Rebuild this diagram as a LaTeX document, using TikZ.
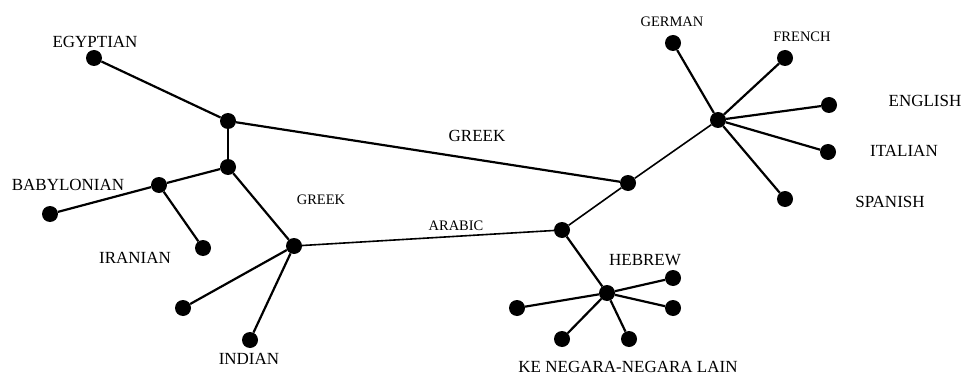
\documentclass[tikz,border=0pt]{standalone}
\usepackage{fontspec}
\setmainfont{Liberation Serif}
\begin{document}
\begin{tikzpicture}[x=1pt,y=-1pt,
  dot/.style={circle,fill=black,draw=none,minimum size=16pt,inner sep=0pt},
  edge/.style={line width=2.2pt},
  thinedge/.style={line width=1.6pt},
  big/.style={inner sep=0pt,anchor=base,font=\fontsize{17}{17}\selectfont},
  small/.style={inner sep=0pt,anchor=base,font=\fontsize{14.5}{14.5}\selectfont}]
\useasboundingbox (0,0) rectangle (965,374);
% dots
\node[dot] (egy) at (94,58) {};
\node[dot] (A) at (228,121) {};
\node[dot] (B) at (228,167) {};
\node[dot] (C) at (159,185) {};
\node[dot] (bab) at (50,214) {};
\node[dot] (ira) at (203,248) {};
\node[dot] (D) at (294,246) {};
\node[dot] (l1) at (183,308) {};
\node[dot] (ind) at (250,340) {};
\node[dot] (E) at (562,230) {};
\node[dot] (F) at (628,183) {};
\node[dot] (G) at (718,120) {};
\node[dot] (ger) at (673,43) {};
\node[dot] (fre) at (785,58) {};
\node[dot] (eng) at (829,105) {};
\node[dot] (ita) at (828,152) {};
\node[dot] (spa) at (785,199) {};
\node[dot] (H) at (607,293) {};
\node[dot] (h1) at (517,308) {};
\node[dot] (h2) at (673,278) {};
\node[dot] (h3) at (673,308) {};
\node[dot] (h4) at (562,339) {};
\node[dot] (h5) at (629,339) {};
% edges
\draw[edge] (egy) -- (A);
\draw[edge] (A) -- (B);
\draw[edge] (A) -- (F);
\draw[edge] (B) -- (C);
\draw[edge] (C) -- (bab);
\draw[edge] (C) -- (ira);
\draw[edge] (B) -- (D);
\draw[edge] (D) -- (l1);
\draw[edge] (D) -- (ind);
\draw[thinedge] (D) -- (E);
\draw[thinedge] (E) -- (F);
\draw[thinedge] (F) -- (G);
\draw[edge] (G) -- (ger);
\draw[edge] (G) -- (fre);
\draw[edge] (G) -- (eng);
\draw[edge] (G) -- (ita);
\draw[edge] (G) -- (spa);
\draw[edge] (E) -- (H);
\draw[edge] (H) -- (h1);
\draw[edge] (H) -- (h2);
\draw[edge] (H) -- (h3);
\draw[edge] (H) -- (h4);
\draw[edge] (H) -- (h5);
% labels
\node[big] (tegy) at (95,48) {EGYPTIAN};
\node[big] (tbab) at (68,190) {BABYLONIAN};
\node[big] (tira) at (135,263) {IRANIAN};
\node[small] (tgreek1) at (321,204) {GREEK};
\node[big] (tind) at (249,364) {INDIAN};
\node[small] (tara) at (456,230) {ARABIC};
\node[big] (tgreek2) at (477,142) {GREEK};
\node[small] (tger) at (672,27) {GERMAN};
\node[small] (tfre) at (802,42) {FRENCH};
\node[big] (teng) at (925,107) {ENGLISH};
\node[big] (tita) at (904,157) {ITALIAN};
\node[big] (tspa) at (890,207) {SPANISH};
\node[big] (theb) at (645,265) {HEBREW};
\node[big] (tke) at (628,372) {KE NEGARA-NEGARA LAIN};
\end{tikzpicture}
\end{document}
